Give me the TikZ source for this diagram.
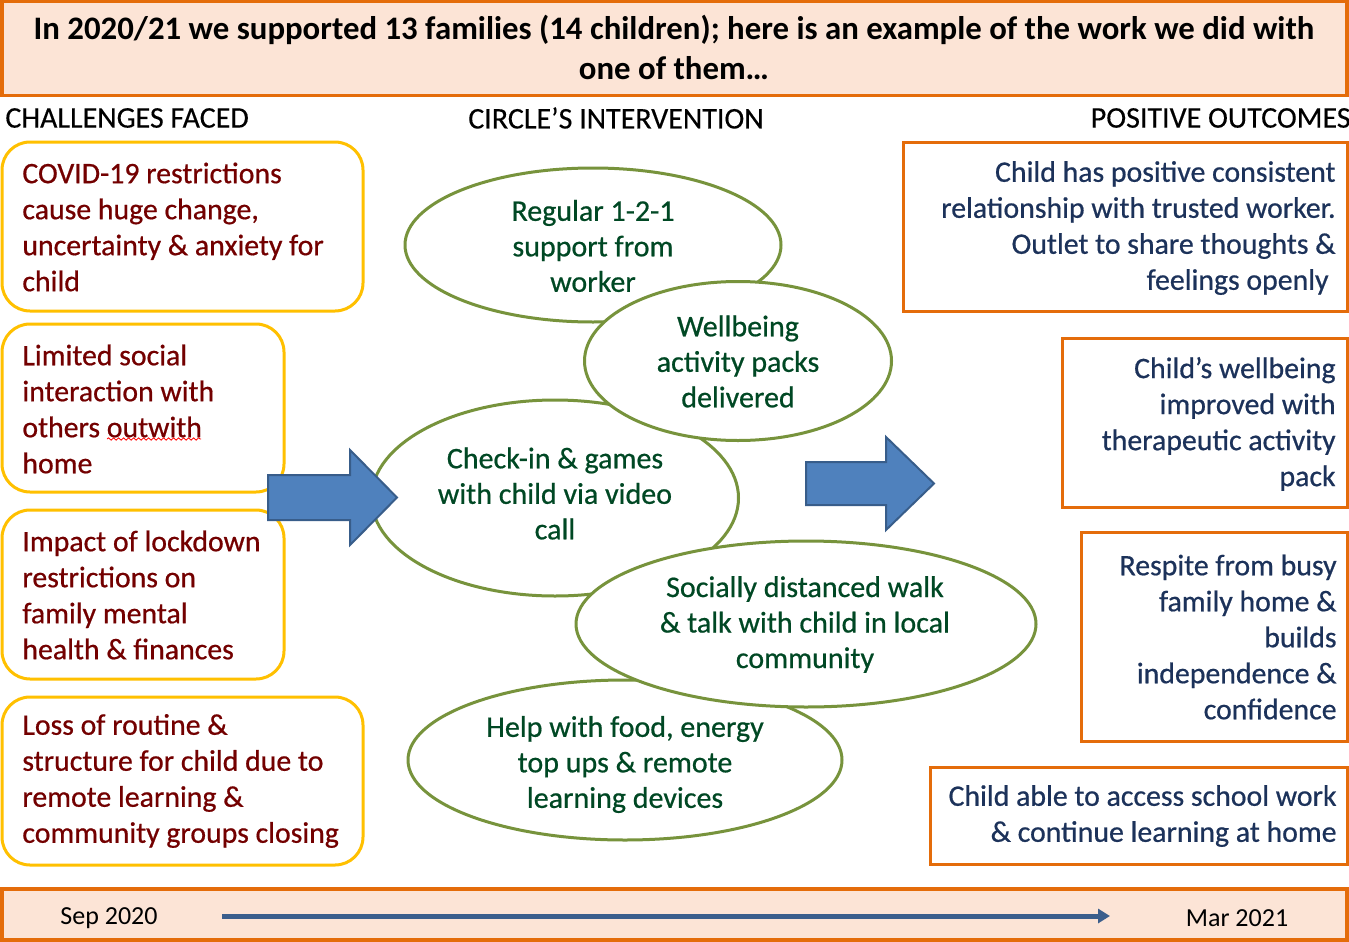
\documentclass[tikz,border=0pt]{standalone}
\usepackage{fontspec}
\setmainfont{Carlito}
\usetikzlibrary{arrows.meta,shapes.geometric,decorations.pathmorphing}
\definecolor{peach}{RGB}{252,228,214}
\definecolor{orng}{RGB}{228,108,10}
\definecolor{gold}{RGB}{255,192,0}
\definecolor{grn}{RGB}{119,147,60}
\definecolor{blu}{RGB}{79,129,189}
\definecolor{bluedge}{RGB}{56,93,138}
\definecolor{redtxt}{RGB}{115,0,0}
\definecolor{grntxt}{RGB}{0,72,36}
\definecolor{navytxt}{RGB}{28,50,90}
\definecolor{lineblue}{RGB}{59,94,140}
\newcommand\bodyfnt{\fontsize{14.9}{18}\selectfont\addfontfeature{FakeBold=0.6}}
\newcommand\ellfnt{\fontsize{15}{17.75}\selectfont\addfontfeature{FakeBold=0.6}}
\newcommand\headfnt{\fontsize{16.4}{20}\selectfont\bfseries}
\newcommand\colfnt{\fontsize{15}{16}\selectfont\addfontfeature{FakeBold=0.3}}
\newcommand\tlfnt{\fontsize{13}{14}\selectfont}
\tikzset{
  chbox/.style={draw=gold, line width=1.5pt, rounded corners=14pt, fill=white, inner sep=0pt},
  outbox/.style={draw=orng, line width=1.5pt, fill=white, inner sep=0pt},
  peachbox/.style={draw=orng, line width=1.8pt, fill=peach, inner sep=0pt},
  ell/.style={draw=grn, line width=1.5pt, fill=white, ellipse, inner sep=0pt},
  chtext/.style={anchor=west, align=left, text=redtxt, font=\bodyfnt, inner sep=0pt},
  outtext/.style={anchor=east, align=right, text=navytxt, font=\bodyfnt, inner sep=0pt},
  elltext/.style={align=center, text=grntxt, font=\ellfnt, inner sep=0pt},
  coltext/.style={font=\colfnt, text=black, inner sep=0pt},
  bigarrow/.style={fill=blu, draw=bluedge, line width=1pt},
}
\begin{document}
\begin{tikzpicture}[x=0.5pt,y=-0.5pt]
\useasboundingbox (0,0) rectangle (1349,942);
\fill[white] (0,0) rectangle (1349,942);

% header
\node[peachbox, minimum width=672.5pt, minimum height=47pt] (hdr) at (674.5,48.5) {};
\node[font=\headfnt, align=center, inner sep=0pt] (hdrtext) at (674,47)
  {In 2020/21 we supported 13 families (14 children); here is an example of the work we did with\\one of them\dots};

% column headings
\node[coltext, anchor=west] (colA) at (5,118) {CHALLENGES FACED};
\node[coltext] (colB) at (616,118) {CIRCLE’S INTERVENTION};
\node[coltext, anchor=east] (colC) at (1351,118) {POSITIVE OUTCOMES};

% challenge boxes
\node[chbox, minimum width=180.5pt, minimum height=84.5pt] (c1) at (182.5,226.5) {};
\node[chbox, minimum width=141pt, minimum height=84pt] (c2) at (143,408) {};
\node[chbox, minimum width=141pt, minimum height=84.5pt] (c3) at (143,594.5) {};
\node[chbox, minimum width=180.5pt, minimum height=84pt] (c4) at (182.5,781) {};
\node[chtext] (c1t) at (22,227) {COVID-19 restrictions\\cause huge change,\\uncertainty \& anxiety for\\child};
\node[chtext] (c2t) at (22,409) {Limited social\\interaction with\\others outwith\\home};
\node[chtext] (c3t) at (22,595) {Impact of lockdown\\restrictions on\\family mental\\health \& finances};
\node[chtext] (c4t) at (22,781) {Loss of routine \&\\structure for child due to\\remote learning \&\\community groups closing};
\coordinate (sq0) at (107,439);
\coordinate (sq1) at (201,439);
\draw[red, line width=0.4pt, decorate, decoration={snake, amplitude=0.6pt, segment length=2.5pt}] (sq0) -- (sq1);

% outcome boxes
\node[outbox, minimum width=222pt, minimum height=84.5pt] (o1) at (1125,226.5) {};
\node[outbox, minimum width=142.5pt, minimum height=84.5pt] (o2) at (1204.5,422.5) {};
\node[outbox, minimum width=133pt, minimum height=104.5pt] (o3) at (1214,636.5) {};
\node[outbox, minimum width=208.5pt, minimum height=48.5pt] (o4) at (1138.5,815.5) {};
\node[outtext] (o1t) at (1336,228) {Child has positive consistent\\relationship with trusted worker.\\Outlet to share thoughts \&\\feelings openly\hspace*{3.5pt}};
\node[outtext] (o2t) at (1336,424) {Child’s wellbeing\\improved with\\therapeutic activity\\pack};
\node[outtext] (o3t) at (1337,637) {Respite from busy\\family home \&\\builds\\independence \&\\confidence};
\node[outtext] (o4t) at (1337,816) {Child able to access school work\\\& continue learning at home};

% ellipses
\node[ell, minimum width=188pt, minimum height=77pt] (e1) at (593,245) {};
\node[ell, minimum width=183.5pt, minimum height=98pt] (e3) at (555,498) {};
\node[ell, minimum width=217pt, minimum height=80pt] (e5) at (625,760) {};
\node[ell, minimum width=153.5pt, minimum height=79.5pt] (e2) at (738,361) {};
\node[ell, minimum width=230pt, minimum height=83pt] (e4) at (806,624) {};
\node[elltext] (e1t) at (593,246) {Regular 1-2-1\\support from\\worker};
\node[elltext] (e2t) at (738,361.5) {Wellbeing\\activity packs\\delivered};
\node[elltext] (e3t) at (555,493.5) {Check-in \& games\\with child via video\\call};
\node[elltext] (e4t) at (805,624.5) {Socially distanced walk\\\& talk with child in local\\community};
\node[elltext] (e5t) at (625,764.5) {Help with food, energy\\top ups \& remote\\learning devices};

% block arrows
\draw[bigarrow] (268,475) -- (350,475) -- (350,450) -- (397,497.5) -- (350,545) -- (350,520) -- (268,520) -- cycle;
\draw[bigarrow] (806,462) -- (886,462) -- (886,437) -- (934,483.5) -- (886,530) -- (886,505) -- (806,505) -- cycle;

% timeline
\node[peachbox, minimum width=672.5pt, minimum height=25.5pt] (tl) at (674.5,914.5) {};
\node[font=\tlfnt, inner sep=0pt] (tlA) at (109,918) {Sep 2020};
\node[font=\tlfnt, inner sep=0pt] (tlB) at (1237,918) {Mar 2021};
\coordinate (tl0) at (222,916);
\coordinate (tl1) at (1110,916);
\draw[lineblue, line width=2.5pt, -{Triangle[length=6pt,width=7pt]}] (tl0) -- (tl1);
\end{tikzpicture}
\end{document}
